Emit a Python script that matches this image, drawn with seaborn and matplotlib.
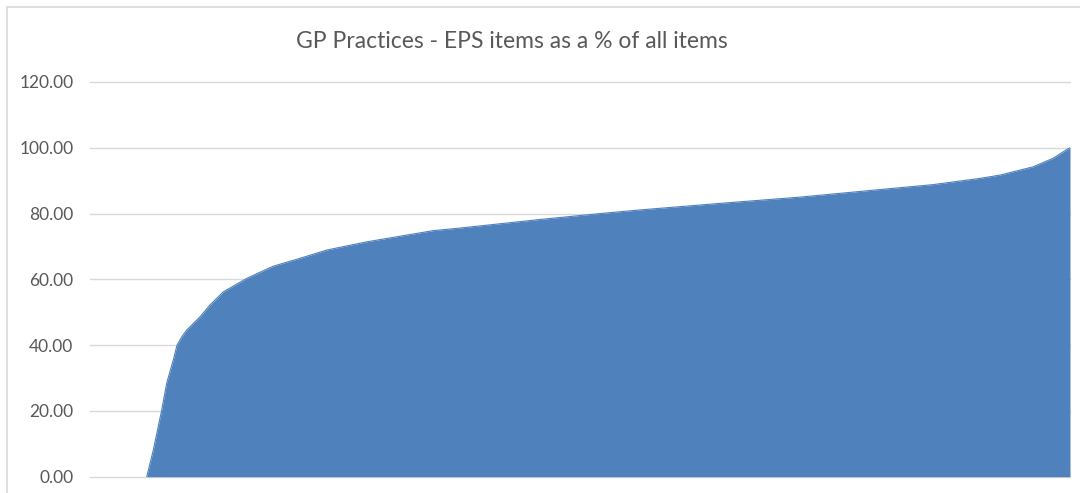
import matplotlib
matplotlib.use("Agg")
import matplotlib.pyplot as plt
from matplotlib.lines import Line2D
import pandas as pd
import seaborn as sns

# practices ranked by EPS share, position as % of all practices
practice_pct = [0, 5.79, 6.46, 7.32, 7.83, 8.50, 8.88, 9.36, 9.87, 11.22, 12.24,
                13.60, 15.99, 18.70, 21.43, 24.15, 28.23, 35.00, 37.76, 41.84,
                45.92, 52.04, 56.12, 64.29, 72.45, 80.61, 86.02, 90.82, 92.86,
                96.22, 98.27, 99.69, 100]
eps_pct = [0, 0, 8.1, 20.3, 28.5, 35.5, 40.0, 42.5, 44.6, 48.6, 52.2,
           56.2, 60.3, 64.0, 66.4, 68.9, 71.4, 74.8, 75.6, 76.9,
           78.2, 80.0, 81.1, 83.1, 85.0, 87.3, 88.8, 90.7, 91.7,
           94.2, 96.8, 99.5, 100]
y_ticks = [0, 20, 40, 60, 80, 100, 120]

df = pd.DataFrame({"rank": practice_pct, "eps": eps_pct})

sns.set_style("white")
plt.rcParams["font.family"] = ["Lato", "DejaVu Sans"]

grey_text = "#595959"
grid_col = "#d9d9d9"
blue = "#4F81BD"

fig = plt.figure(figsize=(10.8, 4.93), dpi=100)
ax = fig.add_axes([90 / 1080, 1 - 476.7 / 493, 980 / 1080, (476.7 - 82) / 493])

for v in y_ticks:
    ax.axhline(v, color=grid_col, linewidth=1, zorder=1, clip_on=False)

# outline only where the area is above zero
sns.lineplot(data=df.iloc[1:], x="rank", y="eps", color=blue, linewidth=0.8,
             ax=ax, zorder=3)
ax.fill_between(df["rank"], df["eps"], 0, color=blue, linewidth=0, zorder=2)

ax.set_xlim(0, 100)
ax.set_ylim(0, 120)
ax.set_yticks(y_ticks)
ax.set_yticklabels([f"{v:.2f}" for v in y_ticks])
ax.set_xticks([])
ax.set_xlabel("")
ax.set_ylabel("")
ax.tick_params(axis="y", length=0, pad=12, labelsize=12.5, labelcolor=grey_text)
for s in ax.spines.values():
    s.set_visible(False)

fig.text(511.5 / 1080, 1 - 42 / 493, "GP Practices - EPS items as a % of all items",
         ha="center", va="center", fontsize=16.5, color=grey_text)

# chart area border (left and top visible)
fig.add_artist(Line2D([7 / 1080, 7 / 1080], [0, 1 - 7 / 493], color=grid_col, lw=1.2))
fig.add_artist(Line2D([7 / 1080, 1], [1 - 7 / 493, 1 - 7 / 493], color=grid_col, lw=1.2))

fig.savefig("out.png", dpi=100)
